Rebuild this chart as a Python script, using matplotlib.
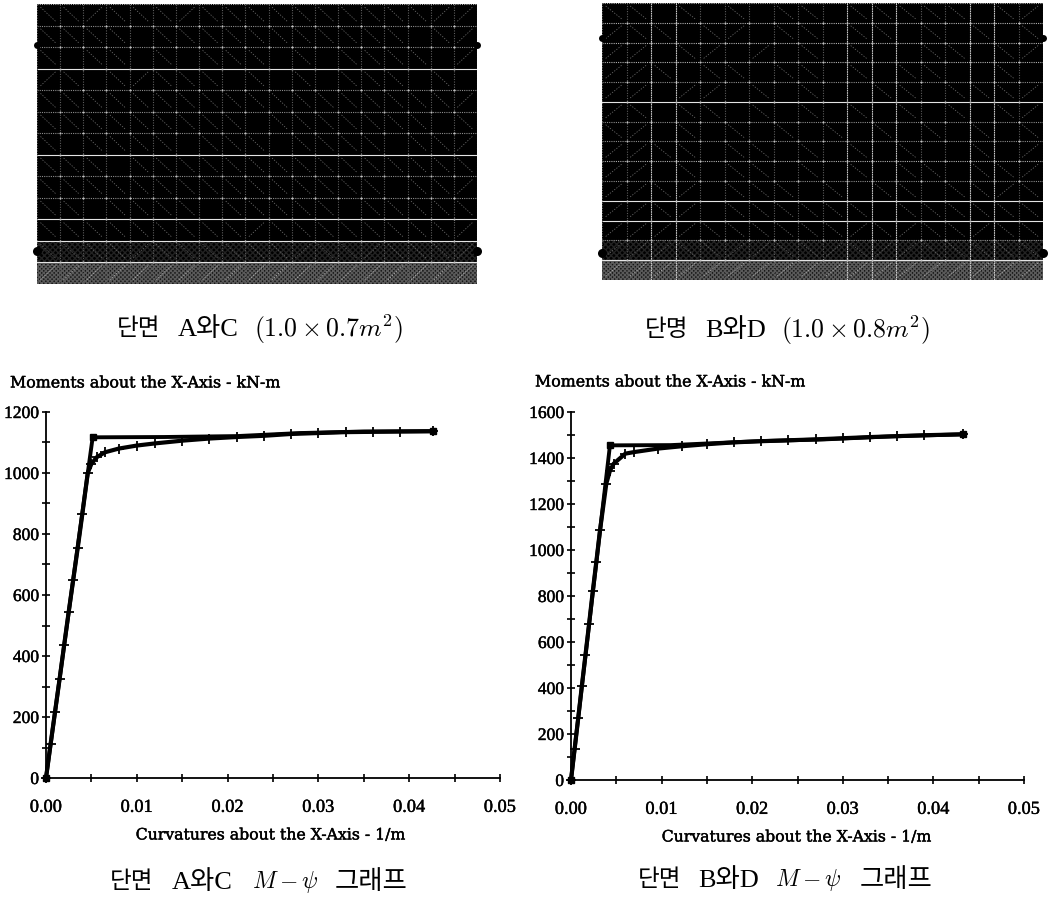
import numpy as np
import matplotlib
matplotlib.use("Agg")
import matplotlib.pyplot as plt
import matplotlib.patheffects as pe
from matplotlib.patches import Rectangle

plt.rcParams['mathtext.fontset'] = 'cm'
W, H = 1050, 897
SERIF = ['Liberation Serif', 'DejaVu Serif']
LABEL = ['DejaVu Serif']
KOREAN = ['Liberation Serif', 'Noto Sans CJK KR']

# M-psi curves
curv_a = [0, 0.0005, 0.0010, 0.0015, 0.0020, 0.0025, 0.0030, 0.0035, 0.0040, 0.0046, 0.0050, 0.0056,
          0.0065, 0.0080, 0.0100, 0.0120, 0.0150, 0.0180, 0.0210, 0.0240, 0.0270, 0.0300, 0.0330,
          0.0360, 0.0390, 0.0426]
moment_a = [0, 110, 218, 325, 436, 545, 650, 755, 865, 1000, 1030, 1052,
            1068, 1080, 1090, 1097, 1106, 1113, 1118, 1122, 1128, 1131, 1134,
            1135, 1136, 1137]
bilin_curv_a = [0, 0.00514, 0.0130, 0.0210, 0.0280, 0.0350, 0.0426]
bilin_moment_a = [0, 1117, 1118, 1121, 1131, 1136, 1137]

curv_b = [0, 0.0004, 0.0008, 0.0012, 0.0016, 0.0020, 0.0024, 0.0028, 0.0032, 0.0039, 0.0043, 0.0047,
          0.0060, 0.0070, 0.0096, 0.0122, 0.0150, 0.0180, 0.0210, 0.0240, 0.0270, 0.0300, 0.0330,
          0.0360, 0.0390, 0.0433]
moment_b = [0, 135, 270, 410, 545, 680, 820, 950, 1085, 1289, 1345, 1375,
            1419, 1426, 1441, 1451, 1460, 1468, 1473, 1477, 1481, 1486, 1491,
            1495, 1499, 1503]
bilin_curv_b = [0, 0.0043, 0.0110, 0.0206, 0.0280, 0.0353, 0.0433]
bilin_moment_b = [0, 1455, 1456, 1473, 1481, 1494, 1503]

xticks = [0, 0.01, 0.02, 0.03, 0.04, 0.05]
xminor = [0.005, 0.015, 0.025, 0.035, 0.045]
yticks_a = [0, 200, 400, 600, 800, 1000, 1200]
yminor_a = [100, 300, 500, 700, 900, 1100]
yticks_b = [0, 200, 400, 600, 800, 1000, 1200, 1400, 1600]
yminor_b = [100, 300, 500, 700, 900, 1100, 1300, 1500]

# fibre mesh of the two sections: cells across/down and which lines come out bright
cols_a, rows_a = 19, 13
strong_h_a = [3, 7, 10, 11, 12]
mid_h_a = [1, 2, 4, 5, 6, 8, 9]
strong_v_a = []
cols_b, rows_b = 18, 14
strong_h_b = [5, 10, 11, 13]
mid_h_b = [4, 6, 7, 9, 12]
strong_v_b = [2, 3, 10, 11, 12, 15, 16]

diag_a = [
    r"\\/\\\/\\\\\\\\\\//",
    r"\\\\.\\\\\\\\\\\.\/",
    r"\.\\.\.\\\.\.\\\\./",
    r"/\.\/\\\.\.\.\\\.\.",
    r"\\\\\\\\\\\\\\\\\\/",
    r"\\\\\\\\\.\\\\\\\.\\"[:19],
    r"\.\\\\.\\\.\\\\.\\/",
    r"\\\.\\\\\\\\\\\\\\\\"[:19],
    r"\\\\\\\\\\\\\\\.\\/",
    r"\\.\\\\.\\\\\.\\\\\\"[:19],
    r"\\\\\\\\\/\\\\\\\\/",
    r"\\\\/\\\\\\/\\/\\\/\\"[:19],
    r"///////////////////",
]
diag_b = [
    r"\\.\.\.\\.\\\\\.\/",
    r"/\\.\/.\\.\\.\.\.\/"[:18],
    r"//.\/./.\.\..\\.\/"[:18],
    r"//\.\\.\\.\.\\..\./"[:18],
    r"//.//.\.\..\\.\\\/"[:18],
    r"/\.\\.\.\.\.\.\.\/"[:18],
    r"\/.\.\.\.\.\.\.\.\\"[:18],
    r"//\\.\\.\.\.\..\./"[:18],
    r"//.\.\\.\.\.\\.\\/"[:18],
    r"//\/.\\\.\.\\.\\/\\"[:18],
    r"//\/.\\\\\\.\\\\\\"[:18],
    r"////\\\\\\/\/\\/\\\\"[:18],
    r"///\\//\\/\//\\\\\\"[:18],
    r"//////////////////",
]
rebar_y_a = [1.9, 11.45]
rebar_y_b = [1.77, 12.63]

fig = plt.figure(figsize=(W / 100, H / 100), dpi=100, facecolor='white')


def px_axes(left, top, right, bottom):
    return fig.add_axes([left / W, 1 - bottom / H, (right - left) / W, (bottom - top) / H])


def put(x, y, s, **kw):
    kw.setdefault('va', 'center')
    fig.text(x / W, 1 - y / H, s, **kw)


def section(box, cols, rows, strong_h, mid_h, strong_v, diag, rebar_y, band_top):
    ax = px_axes(*box)
    ax.set_xlim(0, cols)
    ax.set_ylim(rows, 0)
    ax.axis('off')
    ax.add_patch(Rectangle((0, 0), cols, rows, fc='black', ec='none', zorder=1))
    ax.add_patch(Rectangle((0, band_top), cols, rows - band_top, fc='#141414', ec='#5a5a5a',
                           hatch='xxxxxxxx', lw=0, zorder=1.5))
    ax.add_patch(Rectangle((0, band_top - 1), cols, 1, fc='black', ec='#222222',
                           hatch='xxxxxx', lw=0, zorder=1.4))
    for r, line in enumerate(diag):
        low = r == rows - 1
        color = '#b0b0b0' if low else '#666666'
        for c, ch in enumerate(line):
            if ch == '\\':
                ax.plot([c + 0.15, c + 0.8], [r + 0.15, r + 0.8], color=color, lw=0.6,
                        ls=(0, (1.5, 1.8)), zorder=2)
            elif ch == '/':
                ax.plot([c + 0.15, c + 0.8], [r + 0.8, r + 0.15], color=color, lw=0.6,
                        ls=(0, (1.5, 1.8)), zorder=2)
    for i in range(rows + 1):
        if i in strong_h:
            ax.axhline(i, color='#e4e4e4', lw=0.8, zorder=3)
        elif i in mid_h:
            ax.axhline(i, color='#8c8c8c', lw=0.8, ls=(0, (1, 1)), zorder=3)
        else:
            ax.axhline(i, color='#b0b0b0', lw=0.8, ls=(0, (1, 1)), zorder=3)
    for i in range(cols + 1):
        if i in strong_v:
            ax.axvline(i, color='#c8c8c8', lw=0.8, ls=(0, (1.5, 0.6)), zorder=3)
        else:
            ax.axvline(i, color='#5c5c5c', lw=0.8, ls=(0, (1, 1.3)), zorder=3)
    gx, gy = np.meshgrid(np.arange(1, cols), np.arange(1, rows))
    ax.plot(gx.ravel(), gy.ravel(), ls='none', marker='o', ms=1.5, mfc='#c0c0c0', mec='none', zorder=4)
    for y, size in zip(rebar_y, [5, 6.5]):
        ax.plot([0, cols], [y, y], ls='none', marker='o', ms=size, mfc='black', mec='none',
                clip_on=False, zorder=5)


def mphi(box, curv, moment, bil_x, bil_y, ymax, yt, ym):
    ax = px_axes(*box)
    ax.plot(curv, moment, color='black', lw=3.0, marker='+', ms=7, mew=1.3, clip_on=False, zorder=3)
    ax.plot(bil_x, bil_y, color='black', lw=2.8, clip_on=False, zorder=4)
    ax.plot([bil_x[0], bil_x[1], bil_x[-1]], [bil_y[0], bil_y[1], bil_y[-1]], ls='none', marker='s',
            ms=5, color='black', clip_on=False, zorder=5)
    ax.set_xlim(0, 0.05)
    ax.set_ylim(0, ymax)
    ax.spines[['top', 'right']].set_visible(False)
    ax.spines[['left', 'bottom']].set_linewidth(1.3)
    ax.set_xticks(xticks)
    ax.set_xticklabels(['%.2f' % v for v in xticks])
    ax.set_xticks(xminor, minor=True)
    ax.set_yticks(yt)
    ax.set_yticks(ym, minor=True)
    ax.tick_params(which='both', direction='inout', length=6, width=1.2)
    ax.tick_params(axis='x', which='major', pad=12)
    ax.tick_params(axis='y', which='major', pad=2)
    for lab in ax.get_xticklabels():
        lab.set_fontfamily(SERIF)
        lab.set_fontsize(13.2)
        lab.set_path_effects([pe.withStroke(linewidth=0.3, foreground='black')])
    for lab in ax.get_yticklabels():
        lab.set_fontfamily(SERIF)
        lab.set_fontsize(12.6)
        lab.set_path_effects([pe.withStroke(linewidth=0.3, foreground='black')])
    return ax


section((37, 4, 477, 284), cols_a, rows_a, strong_h_a, mid_h_a, strong_v_a, diag_a, rebar_y_a, 12)
section((602, 3, 1043, 280), cols_b, rows_b, strong_h_b, mid_h_b, strong_v_b, diag_b, rebar_y_b, 13)

mphi((46, 412, 500, 778), curv_a, moment_a, bilin_curv_a, bilin_moment_a, 1200, yticks_a, yminor_a)
mphi((571, 412, 1024, 780), curv_b, moment_b, bilin_curv_b, bilin_moment_b, 1600, yticks_b, yminor_b)

stroke = [pe.withStroke(linewidth=0.3, foreground='black')]
put(10, 383, 'Moments about the X-Axis - kN-m', family=LABEL, fontsize=11.4, path_effects=stroke)
put(535, 382, 'Moments about the X-Axis - kN-m', family=LABEL, fontsize=11.4, path_effects=stroke)
put(271, 835, 'Curvatures about the X-Axis - 1/m', family=LABEL, fontsize=11.3, ha='center', path_effects=stroke)
put(797, 837, 'Curvatures about the X-Axis - 1/m', family=LABEL, fontsize=11.3, ha='center', path_effects=stroke)

put(117, 329, '단면', family=KOREAN, fontsize=17)
put(178, 329, 'A와C', family=KOREAN, fontsize=19)
put(254, 329, r'$(1.0\times 0.7m^2)$', fontsize=18.5)
put(645, 330, '단명', family=KOREAN, fontsize=17)
put(705, 330, 'B와D', family=KOREAN, fontsize=19)
put(781, 330, r'$(1.0\times 0.8m^2)$', fontsize=18.5)

put(110, 882, '단면', family=KOREAN, fontsize=17)
put(172, 882, 'A와C', family=KOREAN, fontsize=19)
put(252, 882, r'$M-\psi$', fontsize=17)
put(335, 882, '그래프', family=KOREAN, fontsize=19)
put(638, 880, '단면', family=KOREAN, fontsize=17)
put(698, 880, 'B와D', family=KOREAN, fontsize=19)
put(775, 880, r'$M-\psi$', fontsize=17)
put(860, 880, '그래프', family=KOREAN, fontsize=19)

fig.savefig('out.png', dpi=100, facecolor='white')
